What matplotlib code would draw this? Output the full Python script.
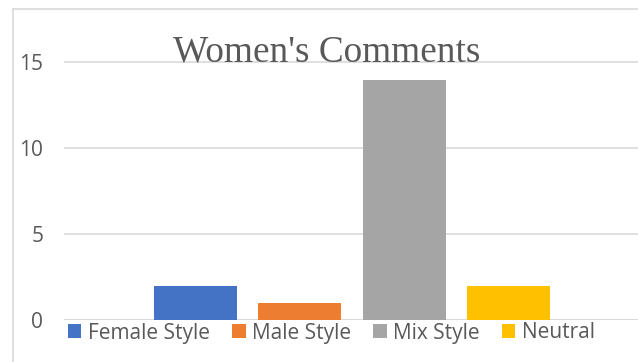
import matplotlib
matplotlib.use("Agg")
import matplotlib.pyplot as plt
from matplotlib.lines import Line2D
from matplotlib.patches import Patch

categories = ["Female Style", "Male Style", "Mix Style", "Neutral"]
values = [2, 1, 14, 2]
colors = ["#4472C4", "#ED7D31", "#A5A5A5", "#FFC000"]
yticks = [0, 5, 10, 15]
title = "Women's Comments"

W, H = 638, 362
fig = plt.figure(figsize=(W / 100, H / 100), dpi=100)
fig.patch.set_facecolor("white")

# axes placement in pixels
left_px, right_px, bottom_px, top_px = 64, 638, 320, 10.8
ax = fig.add_axes([left_px / W, 1 - bottom_px / H,
                   (right_px - left_px) / W, (bottom_px - top_px) / H])

x = list(range(len(categories)))
ax.bar(x, values, width=0.792, color=colors, zorder=3)

ax.set_xlim(-1.259, 4.24)
ax.set_ylim(0, 18)
ax.set_yticks(yticks)
ax.set_xticks([])
ax.yaxis.grid(True, color="#D9D9D9", linewidth=1.2, zorder=0)
for s in ax.spines.values():
    s.set_visible(False)
ax.axhline(0, color="#D9D9D9", linewidth=1.2, zorder=2)
ax.tick_params(axis="y", length=0, pad=15, labelsize=15, labelcolor="#595959")
for lab in ax.get_yticklabels():
    lab.set_fontfamily("Open Sans")

fig.text(327 / W, 1 - 62 / H, title, ha="center", va="baseline",
         fontsize=26.8, color="#595959", family="Liberation Serif")

handles = [Patch(facecolor=c, edgecolor="none") for c in colors]
leg = fig.legend(handles, categories, loc="center", ncol=4,
                 bbox_to_anchor=(331 / W, 1 - 333 / H), frameon=False,
                 prop={"family": "Open Sans", "size": 15},
                 handlelength=0.67, handleheight=0.67, handletextpad=0.29,
                 columnspacing=1.06, labelcolor="#595959",
                 borderpad=0, borderaxespad=0)

# chart border (left and top visible)
fig.add_artist(Line2D([13 / W, 13 / W], [0, 1 - 9.3 / H], color="#D9D9D9",
                      linewidth=1.2, transform=fig.transFigure))
fig.add_artist(Line2D([13 / W, 1], [1 - 9.3 / H, 1 - 9.3 / H], color="#D9D9D9",
                      linewidth=1.2, transform=fig.transFigure))

fig.savefig("out.png", dpi=100)
